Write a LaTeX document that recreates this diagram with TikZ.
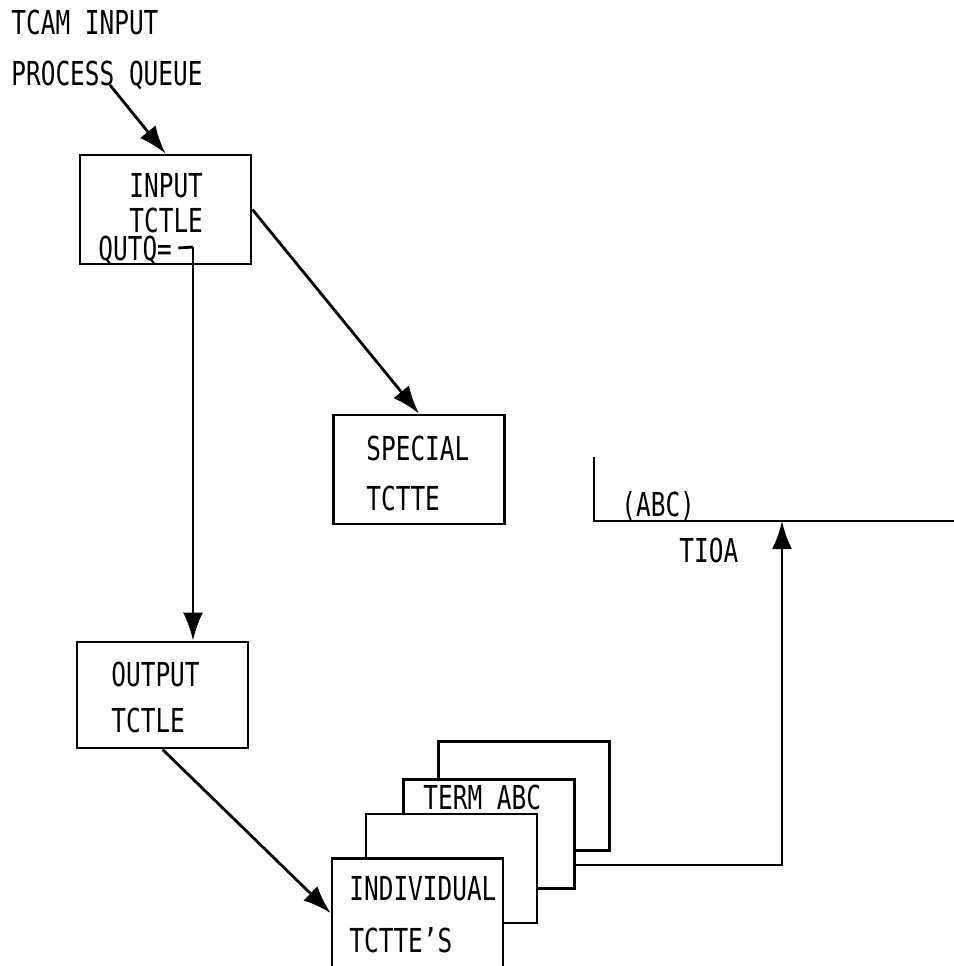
\documentclass[tikz,border=0pt]{standalone}
\usepackage{fontspec}
\setmainfont{DejaVu Sans Mono}[FakeStretch=0.74]
\usetikzlibrary{arrows.meta}

\begin{document}
\begin{tikzpicture}[x=0.5pt,y=-0.5pt,line width=1.4pt,
  >={Latex[length=14pt,width=10pt]},
  blk/.style={draw,fill=white,inner sep=0pt,minimum width=85.5pt,minimum height=54.5pt},
  lbl/.style={anchor=west,inner sep=0pt,text height=12pt,text depth=0pt,
    font=\fontsize{16.5}{19}\selectfont}]
  \useasboundingbox (0,0) rectangle (954,966);

  % Queue heading
  \node[lbl] (tcam) at (10,22) {TCAM INPUT};
  \node[lbl] (queue) at (10,73) {PROCESS QUEUE};
  \coordinate (qstart) at (110,85);

  % Input TCTLE
  \node[blk] (inbox) at (165.5,209.5) {};
  \node[lbl] (intxt) at (128,185) {INPUT};
  \node[lbl] (intctle) at (128,220) {TCTLE};
  \node[lbl] (qutq) at (97,248) {QUTQ=};
  \coordinate (qtick) at (193,247);

  % Special TCTTE
  \node[blk] (spbox) at (419,469.5) {};
  \node[lbl] (sptxt) at (365,448) {SPECIAL};
  \node[lbl] (sptcte) at (365,498) {TCTTE};

  % Output TCTLE
  \node[blk,minimum height=53pt] (outbox) at (162.5,695) {};
  \node[lbl] (outtxt) at (110,674) {OUTPUT};
  \node[lbl] (outtctle) at (110,720) {TCTLE};

  % TIOA field
  \coordinate (tioatop) at (594,457);
  \coordinate (tioaend) at (954,521);
  \coordinate (tioain) at (782,521);
  \draw (tioatop) |- (tioaend);
  \node[lbl] (abc) at (620,504) {(ABC)};
  \node[lbl] (tioa) at (678,550) {TIOA};

  % Stack of terminal TCTTEs (back to front)
  \node[blk] (stk4) at (524,796) {};
  \node[blk] (stk3) at (489,834) {};
  \node[lbl] (term) at (422,797) {TERM ABC};
  \node[blk] (stk2) at (451.5,868.5) {};
  \node[blk] (stk1) at (417.5,913) {};
  \node[lbl] (indiv) at (348,888) {INDIVIDUAL};
  \node[lbl] (indtcte) at (348,940) {TCTTE'S};
  \coordinate (tout) at (575,865);

  % Connectors
  \draw[->] (qstart) -- (inbox.north);
  \draw[->] (inbox.east) -- (spbox.north);
  \draw (qutq.east) ++(5,0) -- (qtick);
  \draw[->] (qtick) -- (qtick |- outbox.north);
  \draw[->] (outbox.south) -- (stk1.west);
  \draw[->] (tout) -| (tioain);
\end{tikzpicture}
\end{document}
